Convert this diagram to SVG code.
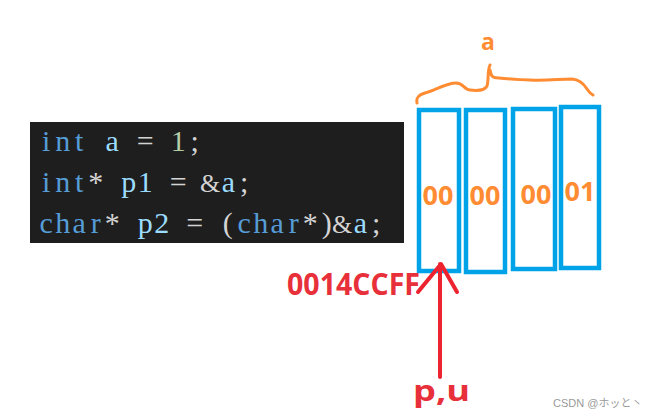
<svg xmlns="http://www.w3.org/2000/svg" width="655" height="417" viewBox="0 0 655 417">
<style>
.code{font-family:"Liberation Serif","Times New Roman",serif;font-size:30px;text-anchor:middle}
.kw{fill:#569cd6}.var{fill:#9cdcfe}.num{fill:#b5cea8}.op{fill:#d4d4d4}
.amp{font-size:26px}
.cell{fill:none;stroke:#00a2e8;stroke-width:4.5}
.val{font-family:"Open Sans","Liberation Sans",sans-serif;font-weight:bold;font-size:27px;fill:#ff8c32;text-anchor:middle}
.red{font-family:"Open Sans","Liberation Sans",sans-serif;font-weight:bold;fill:#e8303a}
.arrow{fill:none;stroke:#ee2330;stroke-width:4;stroke-linecap:round;stroke-linejoin:round}
</style>
<rect width="655" height="417" fill="#ffffff"/>
<g id="code">
<rect x="30" y="122" width="374" height="121" fill="#1e1e1e"/>
<text class="code" y="151"><tspan class="kw" x="46.25 62.75 79.25">int</tspan><tspan class="var" x="112.25">a</tspan><tspan class="op" x="145.25">=</tspan><tspan class="num" x="178.25">1</tspan><tspan class="op" x="194.75">;</tspan></text>
<text class="code" y="192"><tspan class="kw" x="46.25 62.75 79.25">int</tspan><tspan class="op" x="95.75">*</tspan><tspan class="var" x="128.75 145.25">p1</tspan><tspan class="op" x="178.25">=</tspan><tspan class="op amp" x="210">&amp;</tspan><tspan class="var" x="228.5">a</tspan><tspan class="op" x="244.25">;</tspan></text>
<text class="code" y="233"><tspan class="kw" x="46.25 62.75 79.25 95.75">char</tspan><tspan class="op" x="112.25">*</tspan><tspan class="var" x="145.25 161.75">p2</tspan><tspan class="op" x="194.75">=</tspan><tspan class="op" x="227.75">(</tspan><tspan class="kw" x="244.25 260.75 277.25 293.75">char</tspan><tspan class="op" x="310.25 326.75">*)</tspan><tspan class="op amp" x="342">&amp;</tspan><tspan class="var" x="360.5">a</tspan><tspan class="op" x="376.25">;</tspan></text>
</g>
<g id="brace">
<path d="M417,103 C416,98 418,95 425,93 C435,90 445,84 455,83 C463,82 464,90 470,90 C478,91 485,90 487,86 C489,80 487,72 490,65 M490,70 C491,76 492,78 499,78 C510,79 518,80 530,80 C545,81 560,79 572,79 C582,80 585,86 587,89 C589,92 591,94 593,95" fill="none" stroke="#ff8c32" stroke-width="3" stroke-linecap="round" stroke-linejoin="round"/>
<text x="488" y="50" class="val" style="font-size:23px">a</text>
</g>
<g id="byte0"><rect class="cell" x="419" y="110" width="40" height="161"/><text class="val" x="438" y="205">00</text></g>
<g id="byte1"><rect class="cell" x="466" y="110" width="39" height="162"/><text class="val" x="485" y="205">00</text></g>
<g id="byte2"><rect class="cell" x="513" y="109" width="42" height="160"/><text class="val" x="536" y="204">00</text></g>
<g id="byte3"><rect class="cell" x="561" y="107" width="38" height="161"/><text class="val" x="580" y="201">01</text></g>
<g id="connectors">
<path class="arrow" d="M440,377 L440,264 M418,292 L441,264 L457,292"/>
</g>
<g id="addr"><text class="red" x="287" y="295" font-size="30" textLength="133" lengthAdjust="spacingAndGlyphs">0014CCFF</text></g>
<g id="pu"><text class="red" x="413" y="401" font-size="29" textLength="57" lengthAdjust="spacingAndGlyphs">p,u</text></g>
<text x="553" y="407" font-family="'Liberation Sans','Noto Sans CJK JP',sans-serif" font-size="11" fill="#9a9a9a">CSDN @ホッと丶</text>
</svg>
